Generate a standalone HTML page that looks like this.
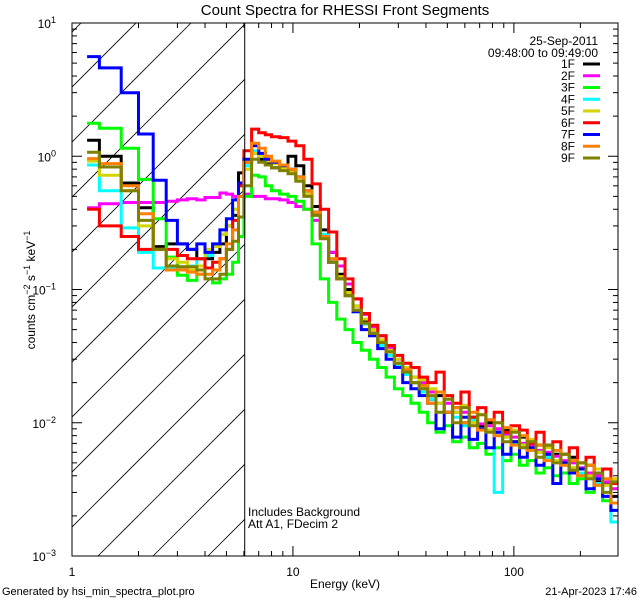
<!DOCTYPE html>
<html><head><meta charset="utf-8"><style>
html,body{margin:0;padding:0;background:#fff;}
svg{display:block;font-family:"Liberation Sans",sans-serif;}
</style></head><body>
<svg id="chart" width="640" height="600" viewBox="0 0 640 600">
<rect x="0" y="0" width="640" height="600" fill="#fff"/>
<text x="345" y="15" font-size="15" text-anchor="middle">Count Spectra for RHESSI Front Segments</text>
<g id="hatch"></g>
<g id="series"></g>
<g id="axes"></g>
<text x="248" y="516" font-size="12">Includes Background</text>
<text x="248" y="528" font-size="12">Att A1, FDecim 2</text>
<text x="345" y="588" font-size="12" text-anchor="middle">Energy (keV)</text>
<text transform="translate(35,290) rotate(-90)" font-size="12" text-anchor="middle">counts cm<tspan dy="-5" font-size="9">−2</tspan><tspan dy="5"> s</tspan><tspan dy="-5" font-size="9">−1</tspan><tspan dy="5"> keV</tspan><tspan dy="-5" font-size="9">−1</tspan></text>
<text x="2" y="595" font-size="11">Generated by hsi_min_spectra_plot.pro</text>
<text x="637" y="595" font-size="11" text-anchor="end">21-Apr-2023 17:46</text>
<text x="598" y="45" font-size="12" text-anchor="end">25-Sep-2011</text>
<text x="598" y="57" font-size="12" text-anchor="end">09:48:00 to 09:49:00</text>
<g id="legend"></g>
</svg>
<script>
const edges = [1.17,1.33,1.67,2,2.33,2.67,3,3.33,3.67,4,4.33,4.67,5,5.33,5.67,6,6.5,7,7.5,8,8.7,9.5,10.3,11.2,12.2,13.3,14.5,15.8,17.2,18.7,20.4,22.2,24.2,26.4,28.8,31.4,34.2,37.3,40.7,44.4,48.4,52.8,57.6,62.8,68.5,74.7,81.5,88.9,97,106,115,126,137,150,163,178,194,212,231,252,275,296];
const seriesNames = ["1F","2F","3F","4F","5F","6F","7F","8F","9F"];
const seriesColors = ["#000000","#ff00ff","#00ff00","#00ffff","#d4d400","#ff0000","#0000ff","#ff8000","#808000"];
const s1F = [1.32,1.0,0.63,0.41,0.21,0.22,0.22,0.2,0.17,0.17,0.19,0.22,0.3,0.36,0.75,
0.9,1.05,0.95,0.88,0.82,0.85,1.0,0.85,0.6,0.42,0.28,0.19,0.13,0.1,0.075,0.058,0.05,0.04,0.036,0.028,0.025,0.02,0.019,0.015,0.016,0.012,0.013,0.01,0.011,0.0095,0.01,0.0085,0.0088,0.0072,0.0078,0.0065,0.0068,0.0055,0.0058,0.005,0.0055,0.0045,0.0048,0.0036,0.0035,0.0028];
const s2F = [0.41,0.44,0.45,0.45,0.45,0.46,0.47,0.48,0.47,0.49,0.49,0.53,0.52,0.5,0.5,
0.52,0.5,0.5,0.48,0.48,0.47,0.45,0.42,0.4,0.33,0.25,0.19,0.15,0.11,0.085,0.065,0.052,0.045,0.036,0.03,0.026,0.022,0.02,0.017,0.014,0.014,0.012,0.012,0.0105,0.0098,0.0095,0.009,0.0082,0.0078,0.007,0.0068,0.0062,0.006,0.0056,0.0052,0.005,0.0046,0.0042,0.004,0.0036,0.0032];
const s3F = [1.77,1.62,1.15,0.67,0.34,0.175,0.128,0.117,0.13,0.12,0.112,0.12,0.13,0.16,0.25,
0.5,0.72,0.7,0.6,0.55,0.52,0.5,0.46,0.4,0.22,0.12,0.08,0.06,0.05,0.04,0.035,0.03,0.026,0.022,0.018,0.016,0.014,0.012,0.01,0.0085,0.0095,0.0072,0.0078,0.0065,0.007,0.0058,0.0065,0.0052,0.0058,0.0048,0.0052,0.0042,0.0046,0.004,0.0042,0.0035,0.0038,0.003,0.0034,0.0026,0.0022];
const s4F = [0.86,0.55,0.29,0.19,0.145,0.145,0.148,0.15,0.17,0.18,0.22,0.26,0.3,0.4,0.6,
0.85,1.1,1.0,0.95,0.88,0.85,0.8,0.7,0.55,0.38,0.26,0.17,0.12,0.09,0.068,0.055,0.046,0.038,0.032,0.027,0.023,0.02,0.017,0.015,0.014,0.012,0.011,0.0095,0.0105,0.009,0.0088,0.003,0.0078,0.007,0.0068,0.0062,0.006,0.0055,0.0052,0.0048,0.0046,0.0042,0.0038,0.0035,0.0028,0.0018];
const s5F = [0.92,0.72,0.55,0.3,0.2,0.17,0.16,0.14,0.15,0.2,0.21,0.26,0.3,0.4,0.6,
0.8,1.05,1.0,0.92,0.88,0.82,0.76,0.66,0.52,0.37,0.25,0.17,0.125,0.095,0.075,0.06,0.05,0.042,0.035,0.03,0.026,0.022,0.021,0.018,0.014,0.016,0.012,0.0135,0.01,0.0115,0.0088,0.01,0.0078,0.0088,0.0068,0.0075,0.006,0.0065,0.0052,0.0058,0.0046,0.005,0.004,0.0045,0.0034,0.0038];
const s6F = [0.40,0.30,0.25,0.20,0.20,0.20,0.18,0.17,0.17,0.145,0.16,0.17,0.2,0.33,0.6,
1.1,1.6,1.5,1.45,1.4,1.38,1.3,1.2,0.95,0.62,0.4,0.27,0.17,0.12,0.085,0.066,0.054,0.045,0.038,0.032,0.028,0.026,0.022,0.02,0.024,0.016,0.014,0.017,0.011,0.013,0.0105,0.012,0.0085,0.0095,0.0088,0.007,0.0085,0.0068,0.0072,0.0058,0.0065,0.005,0.0055,0.0042,0.0045,0.0035];
const s7F = [5.6,4.6,3.0,1.47,0.66,0.33,0.22,0.20,0.22,0.19,0.22,0.28,0.34,0.47,0.63,
0.95,1.2,1.05,0.95,0.9,0.85,0.8,0.7,0.55,0.38,0.25,0.16,0.12,0.09,0.068,0.05,0.045,0.036,0.03,0.026,0.02,0.018,0.016,0.014,0.009,0.012,0.0078,0.011,0.0075,0.009,0.0065,0.0085,0.0058,0.0072,0.0055,0.0065,0.0048,0.0058,0.0035,0.005,0.0042,0.0045,0.0032,0.0038,0.0028,0.0022];
const s8F = [0.96,0.88,0.6,0.37,0.2,0.14,0.14,0.135,0.13,0.13,0.14,0.17,0.22,0.28,0.5,
0.9,1.25,1.15,1.0,0.92,0.86,0.8,0.7,0.55,0.38,0.25,0.17,0.12,0.09,0.07,0.056,0.047,0.04,0.034,0.028,0.025,0.02,0.019,0.014,0.017,0.012,0.013,0.01,0.012,0.0088,0.0105,0.008,0.0092,0.0068,0.008,0.0062,0.0068,0.0052,0.0062,0.0048,0.0052,0.004,0.0048,0.0034,0.0038,0.0025];
const s9F = [1.07,0.83,0.55,0.33,0.2,0.15,0.148,0.148,0.14,0.12,0.12,0.13,0.2,0.23,0.35,
0.6,0.95,0.9,0.86,0.82,0.78,0.74,0.65,0.5,0.36,0.24,0.16,0.12,0.09,0.07,0.056,0.047,0.04,0.034,0.028,0.024,0.02,0.018,0.016,0.012,0.015,0.01,0.013,0.0095,0.0115,0.0085,0.01,0.0072,0.0085,0.0065,0.0072,0.0055,0.0068,0.005,0.0058,0.0044,0.005,0.0038,0.0042,0.003,0.0036];
const xTickLabels = ["1","10","100"];
const yTickExps = ["1","0","−1","−2","−3"];

const NS = "http://www.w3.org/2000/svg";
const L = 72, R = 618, T = 23, B = 556;
const XMIN = 1, XMAX = 296, YMIN = 1e-3, YMAX = 10;
function xs(e){ return L + (Math.log10(e) - Math.log10(XMIN)) / (Math.log10(XMAX) - Math.log10(XMIN)) * (R - L); }
function ys(v){ return B - (Math.log10(v) - Math.log10(YMIN)) / (Math.log10(YMAX) - Math.log10(YMIN)) * (B - T); }
function mk(tag, attrs, parent){ const el = document.createElementNS(NS, tag); for (const k in attrs) el.setAttribute(k, attrs[k]); parent.appendChild(el); return el; }

const svg = document.getElementById('chart');
const defs = mk('defs', {}, svg);
const cp = mk('clipPath', {id:'plotclip'}, defs);
mk('rect', {x:L, y:T, width:R-L, height:B-T}, cp);

// hatch
const hatch = document.getElementById('hatch');
const hx1 = xs(6.05);
const hc = mk('clipPath', {id:'hatchclip'}, defs);
mk('rect', {x:L, y:T, width:hx1-L, height:B-T}, hc);
hatch.setAttribute('clip-path', 'url(#hatchclip)');
for (let c = 654 - 55*12; c < 654 + 55*16; c += 55) {
  const ln = mk('line', {x1: c - B, y1: B, x2: c - T, y2: T, stroke:'#000', 'stroke-width':0.8}, hatch);
  
  
}
const vline = mk('line', {x1:hx1, y1:T, x2:hx1, y2:B, stroke:'#000', 'stroke-width':1}, hatch.parentNode);



// series
const sg = document.getElementById('series');
sg.setAttribute('clip-path', 'url(#plotclip)');
const allSeries = [s1F,s2F,s3F,s4F,s5F,s6F,s7F,s8F,s9F];
allSeries.forEach((vals, si) => {
  let d = '';
  for (let i = 0; i < vals.length; i++) {
    const x0 = xs(edges[i]), x1 = xs(edges[i+1]), y = ys(vals[i]);
    d += (i === 0 ? 'M' : 'L') + x0.toFixed(1) + ' ' + y.toFixed(1) + 'L' + x1.toFixed(1) + ' ' + y.toFixed(1);
  }
  const p = mk('path', {d: d, fill:'none', stroke: seriesColors[si], 'stroke-width':3, 'stroke-linejoin':'miter'}, sg);
  
  
});

// axes
const ax = document.getElementById('axes');
const frame = mk('rect', {x:L, y:T, width:R-L, height:B-T, fill:'none', stroke:'#000', 'stroke-width':1}, ax);


for (let dec = 0; dec < 3; dec++) {
  for (let m = 1; m <= 9; m++) {
    const e = m * Math.pow(10, dec);
    if (e > XMAX) break;
    const x = xs(e), len = m === 1 ? 10 : 5;
    const t1 = mk('line', {x1:x, y1:B, x2:x, y2:B-len, stroke:'#000'}, ax);
    
    
    const t2 = mk('line', {x1:x, y1:T, x2:x, y2:T+len, stroke:'#000'}, ax);
    
    
  }
  const lb = mk('text', {x: xs(Math.pow(10, dec)), y: 576, 'font-size': 12, 'text-anchor':'middle'}, ax);
  lb.textContent = xTickLabels[dec];
  
  
}
for (let dec = -3; dec <= 1; dec++) {
  for (let m = 1; m <= 9; m++) {
    const v = m * Math.pow(10, dec);
    if (v > YMAX) break;
    const y = ys(v), len = m === 1 ? 10 : 5;
    const t1 = mk('line', {x1:L, y1:y, x2:L+len, y2:y, stroke:'#000'}, ax);
    
    
    const t2 = mk('line', {x1:R, y1:y, x2:R-len, y2:y, stroke:'#000'}, ax);
    
    
  }
  const lb = mk('text', {x: 56, y: ys(Math.pow(10, dec)) + 5, 'font-size': 12, 'text-anchor':'end'}, ax);
  lb.textContent = '10';
  const sup = mk('tspan', {dy: -5, 'font-size': 9}, lb);
  sup.textContent = yTickExps[1 - dec];
  
  
}

// legend
const lg = document.getElementById('legend');
seriesNames.forEach((n, i) => {
  const y = 64 + i * 11.75;
  const t = mk('text', {x: 575, y: y + 4, 'font-size': 12, 'text-anchor':'end'}, lg);
  t.textContent = n;
  
  
  const l = mk('line', {x1: 583, y1: y, x2: 600, y2: y, stroke: seriesColors[i], 'stroke-width': 3}, lg);
  
  
});
</script>
</body></html>
